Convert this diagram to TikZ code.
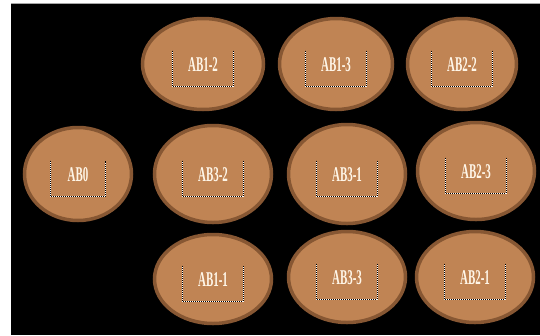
\documentclass[tikz,border=0pt]{standalone}
\usepackage{fontspec}
\usepackage{tikz}
\usetikzlibrary{shapes.geometric}
\newfontfamily\tagfont[FakeStretch=0.52]{Liberation Serif Bold}
\definecolor{potfill}{HTML}{C08454}
\definecolor{potrim}{HTML}{875733}
\definecolor{tagwhite}{HTML}{FFF6E8}

\begin{document}
\begin{tikzpicture}[x=1pt, y=-1pt,
    pot/.style={ellipse, draw=potrim, line width=3.5pt, fill=potfill,
                inner sep=0pt},
    tag/.style={text=tagwhite, font=\tagfont\fontsize{21}{21}\selectfont,
                inner sep=0pt, minimum width=60pt, text height=20pt,
                text depth=15pt, yshift=-4.5pt,
                append after command={\pgfextra{
                  \draw[white, line width=0.9pt]
                    (\tikzlastnode.north west) -- (\tikzlastnode.south west)
                    -- (\tikzlastnode.south east) -- (\tikzlastnode.north east);
                  \draw[black, line width=0.9pt, dash pattern=on 1pt off 1pt]
                    (\tikzlastnode.north west) -- (\tikzlastnode.south west)
                    -- (\tikzlastnode.south east) -- (\tikzlastnode.north east);}}}
  ]
    \useasboundingbox (0,0) rectangle (540,335);
    \fill[white] (0,0) rectangle (540,335);
    \fill[black] (11,4) rectangle (540,335);
    \draw[gray!70, line width=1pt] (11,3.5) -- (540,3.5);

    % top row
    \node[pot, minimum width=121pt, minimum height=91pt] (ab12) at (203,64) {};
    \node[pot, minimum width=113pt, minimum height=91pt] (ab13) at (336,64) {};
    \node[pot, minimum width=109pt, minimum height=91pt] (ab22) at (462,64) {};
    % middle row
    \node[pot, minimum width=107pt, minimum height=93pt] (ab0) at (78,174) {};
    \node[pot, minimum width=117pt, minimum height=97pt] (ab32) at (213,174) {};
    \node[pot, minimum width=117pt, minimum height=99pt] (ab31) at (347,174) {};
    \node[pot, minimum width=117pt, minimum height=97pt] (ab23) at (476,171) {};
    % bottom row
    \node[pot, minimum width=117pt, minimum height=89pt] (ab11) at (213,279) {};
    \node[pot, minimum width=117pt, minimum height=91pt] (ab33) at (347,277) {};
    \node[pot, minimum width=117pt, minimum height=91pt] (ab21) at (475,277) {};

    % labels
    \node[tag] (t12) at (ab12) {AB1-2};
    \node[tag] (t13) at (ab13) {AB1-3};
    \node[tag] (t22) at (ab22) {AB2-2};
    \node[tag, minimum width=55pt] (t0) at (ab0) {AB0};
    \node[tag] (t32) at (ab32) {AB3-2};
    \node[tag] (t31) at (ab31) {AB3-1};
    \node[tag] (t23) at (ab23) {AB2-3};
    \node[tag] (t11) at (ab11) {AB1-1};
    \node[tag] (t33) at (ab33) {AB3-3};
    \node[tag] (t21) at (ab21) {AB2-1};
  \end{tikzpicture}
\end{document}
